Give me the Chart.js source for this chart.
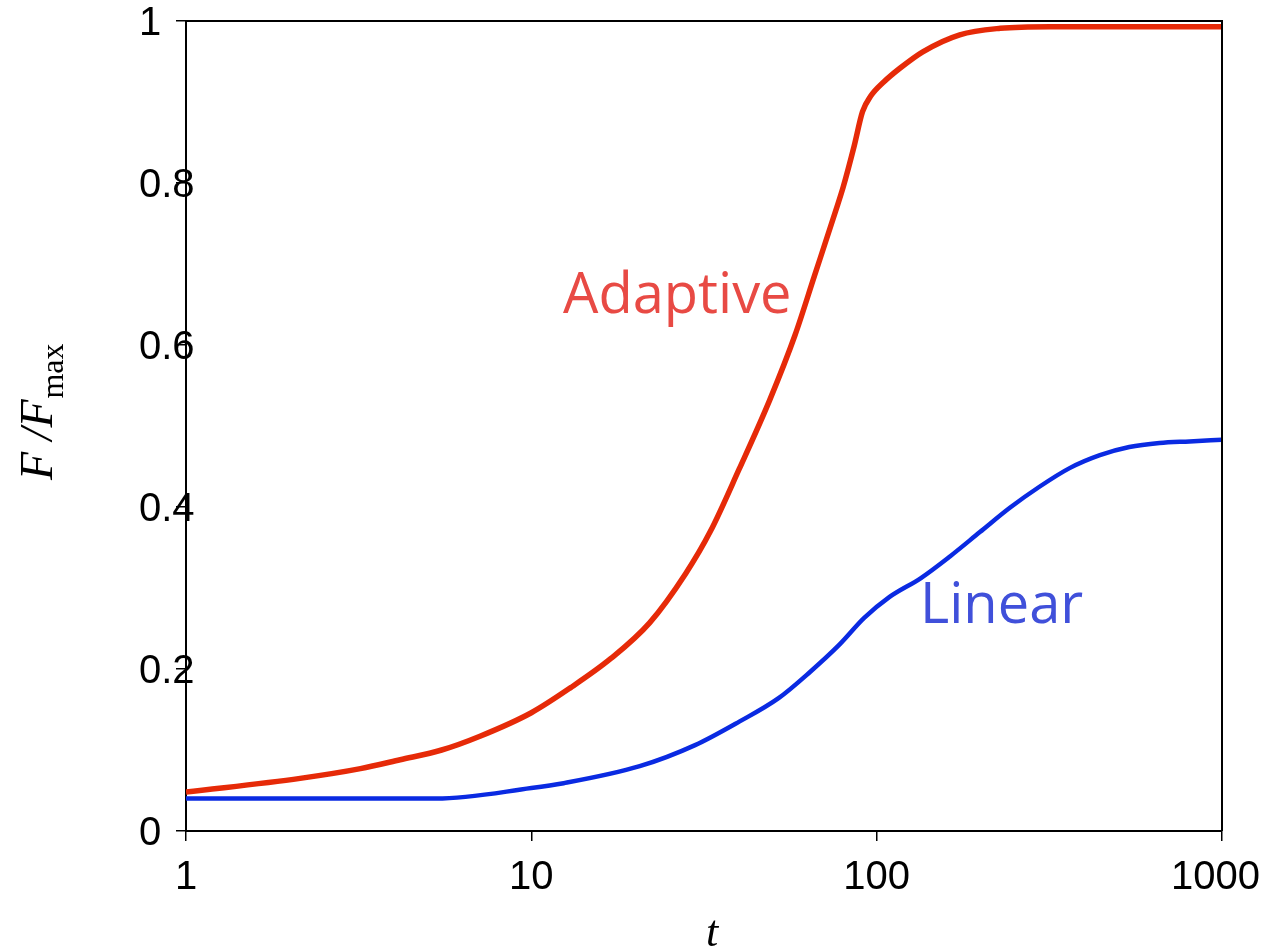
<!DOCTYPE html>
<html>
<head>
<meta charset="utf-8">
<script src="https://cdn.jsdelivr.net/npm/chart.js@4"></script>
<style>
  body { margin: 0; background: #fff; }
  #wrap { width: 1269px; height: 950px; position: relative; }
</style>
</head>
<body>
<div id="wrap"><canvas id="myChart"></canvas></div>
<script>
// values
let adaptiveT = [1, 2.14, 3.2, 4.17, 5.5, 7.1, 10, 13, 17, 22, 28, 33, 40, 49, 58, 66, 76, 80, 86, 91, 96, 105, 117, 136, 174, 228, 318, 500, 1000];
let adaptiveF = [0.048, 0.065, 0.077, 0.088, 0.100, 0.117, 0.146, 0.177, 0.213, 0.257, 0.318, 0.370, 0.447, 0.532, 0.612, 0.685, 0.765, 0.795, 0.845, 0.888, 0.907, 0.925, 0.942, 0.962, 0.983, 0.991, 0.993, 0.993, 0.993];
let linearT = [1, 5.3, 10, 12.4, 20.6, 29.8, 40, 52, 64, 78, 92, 109, 134, 163, 199, 243, 296, 362, 443, 539, 659, 805, 1000];
let linearF = [0.040, 0.040, 0.053, 0.059, 0.080, 0.106, 0.135, 0.164, 0.196, 0.230, 0.263, 0.289, 0.312, 0.339, 0.369, 0.399, 0.425, 0.448, 0.464, 0.474, 0.479, 0.481, 0.483];
let xTicks = [1, 10, 100, 1000];
let yTicks = [0, 0.2, 0.4, 0.6, 0.8, 1];

let redLine = "#e62a08";
let blueLine = "#0a2ae2";
let tickFont = "40px 'Liberation Sans', Arial, sans-serif";

function toPoints(xs, ys) {
  return xs.map((x, i) => ({ x: x, y: ys[i] }));
}

// frame, tick labels, axis titles and curve labels
const extras = {
  id: "extras",
  afterDraw(chart) {
    const ctx = chart.ctx;
    const a = chart.chartArea;
    const xs = chart.scales.x;
    const ys = chart.scales.y;
    ctx.save();
    ctx.strokeStyle = "#000";
    ctx.lineWidth = 2;
    ctx.beginPath();
    ctx.moveTo(a.left, a.top);
    ctx.lineTo(a.right, a.top);
    ctx.lineTo(a.right, a.bottom);
    ctx.stroke();

    // tick labels (the y ones sit over the axis line like in the original)
    ctx.fillStyle = "#000";
    ctx.font = tickFont;
    ctx.textBaseline = "middle";
    ctx.textAlign = "left";
    yTicks.forEach((v) => {
      ctx.fillText(String(v), 139, ys.getPixelForValue(v) + 3);
    });
    ctx.textAlign = "center";
    xTicks.forEach((v) => {
      let label = String(v);
      let w = ctx.measureText(label).width;
      let px = Math.min(xs.getPixelForValue(v), chart.width - 9 - w / 2);
      ctx.fillText(label, px, a.bottom + 47);
    });

    // x title
    ctx.font = "italic 44px 'Liberation Serif', 'DejaVu Serif', serif";
    ctx.textAlign = "center";
    ctx.textBaseline = "alphabetic";
    ctx.fillText("t", 712, 946);

    // y title F /F_max
    ctx.translate(52, 480);
    ctx.rotate(-Math.PI / 2);
    ctx.textAlign = "left";
    ctx.font = "italic 46px 'Liberation Serif', 'DejaVu Serif', serif";
    ctx.fillText("F /F", 0, 0);
    let w = ctx.measureText("F /F").width;
    ctx.font = "32px 'Liberation Serif', 'DejaVu Serif', serif";
    ctx.fillText("max", w + 1, 11);
    ctx.restore();

    ctx.save();
    ctx.font = "56px 'Open Sans', sans-serif";
    ctx.textAlign = "left";
    ctx.textBaseline = "alphabetic";
    ctx.fillStyle = "#e84a44";
    ctx.fillText("Adaptive", 563, 313);
    ctx.fillStyle = "#4050da";
    ctx.fillText("Linear", 920, 623);
    ctx.restore();
  }
};

const ctx = document.getElementById("myChart");
new Chart(ctx, {
  type: "scatter",
  data: {
    datasets: [
      {
        label: "Adaptive",
        data: toPoints(adaptiveT, adaptiveF),
        showLine: true,
        borderColor: redLine,
        borderWidth: 5.5,
        pointRadius: 0,
        cubicInterpolationMode: "monotone",
      },
      {
        label: "Linear",
        data: toPoints(linearT, linearF),
        showLine: true,
        borderColor: blueLine,
        borderWidth: 4.5,
        pointRadius: 0,
        cubicInterpolationMode: "monotone",
      },
    ],
  },
  options: {
    responsive: true,
    maintainAspectRatio: false,
    animation: false,
    layout: { padding: { left: 139, top: 21, right: 47, bottom: 0 } },
    plugins: {
      legend: { display: false },
      tooltip: { enabled: false },
    },
    scales: {
      x: {
        type: "logarithmic",
        min: 1,
        max: 1000,
        afterBuildTicks: (scale) => {
          scale.ticks = xTicks.map((v) => ({ value: v }));
        },
        afterFit: (scale) => {
          scale.height = 119;
          scale.paddingLeft = 0;
          scale.paddingRight = 0;
        },
        ticks: { display: false, autoSkip: false },
        grid: { drawOnChartArea: false, drawTicks: true, tickLength: 10, color: "#000", lineWidth: 1.5 },
        border: { display: true, color: "#000", width: 2 },
      },
      y: {
        min: 0,
        max: 1,
        afterBuildTicks: (scale) => {
          scale.ticks = yTicks.map((v) => ({ value: v }));
        },
        afterFit: (scale) => {
          scale.width = 47;
          scale.paddingTop = 0;
          scale.paddingBottom = 0;
        },
        ticks: { display: false, autoSkip: false },
        grid: { drawOnChartArea: false, drawTicks: true, tickLength: 10, color: "#000", lineWidth: 1.5 },
        border: { display: true, color: "#000", width: 2 },
      },
    },
  },
  plugins: [extras],
});
</script>
</body>
</html>
